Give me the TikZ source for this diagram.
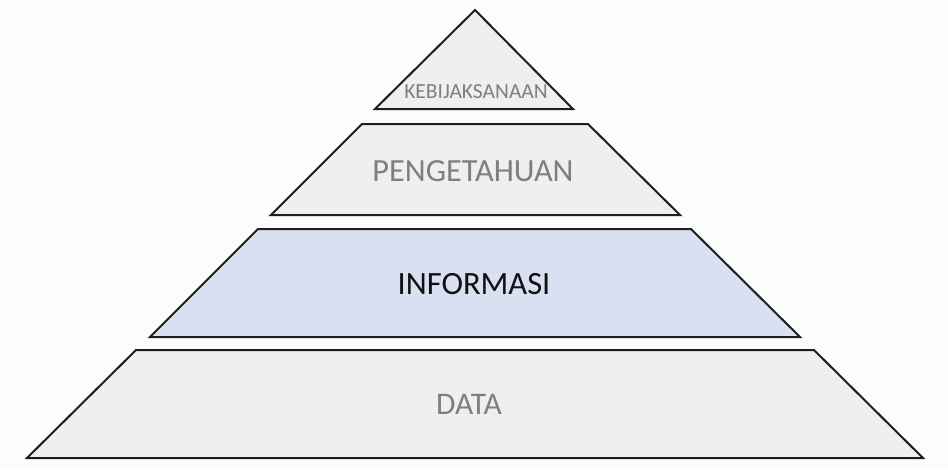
\documentclass[tikz,border=0pt]{standalone}
\usepackage{fontspec}
\setmainfont{Carlito}
\definecolor{tiergray}{HTML}{EFEFEF}
\definecolor{tierblue}{HTML}{D9E0F2}
\definecolor{edge}{HTML}{1E1E1E}
\definecolor{labgray}{HTML}{7F7F7F}
\definecolor{labdark}{HTML}{111111}
\definecolor{bg}{HTML}{FCFCFC}
\tikzset{
  tier/.style={draw=edge, line width=2pt, line join=miter},
  lab/.style={inner sep=0pt, text=labgray},
}
\begin{document}
\begin{tikzpicture}[x=1pt,y=-1pt]
\fill[bg] (0,0) rectangle (948,469);
\useasboundingbox (0,0) rectangle (948,469);
% tiers
\draw[tier, fill=tiergray] (475,10) -- (573,109) -- (375,109) -- cycle;
\draw[tier, fill=tiergray] (362,124) -- (588,124) -- (680,215) -- (271,215) -- cycle;
\draw[tier, fill=tierblue] (258,229) -- (691,229) -- (800,337) -- (150,337) -- cycle;
\draw[tier, fill=tiergray] (136,350) -- (814,350) -- (923,458) -- (27,458) -- cycle;
% labels
\node[lab, font=\fontsize{21.5}{24}\selectfont] (wis) at (476,91.5) {KEBIJAKSANAAN};
\node[lab, font=\fontsize{32.3}{36}\selectfont] (kno) at (473,171) {PENGETAHUAN};
\node[lab, text=labdark, font=\fontsize{32.5}{38}\selectfont] (inf) at (474,284) {INFORMASI};
\node[lab, font=\fontsize{31.5}{36}\selectfont] (dat) at (469,404.5) {DATA};
\end{tikzpicture}
\end{document}
